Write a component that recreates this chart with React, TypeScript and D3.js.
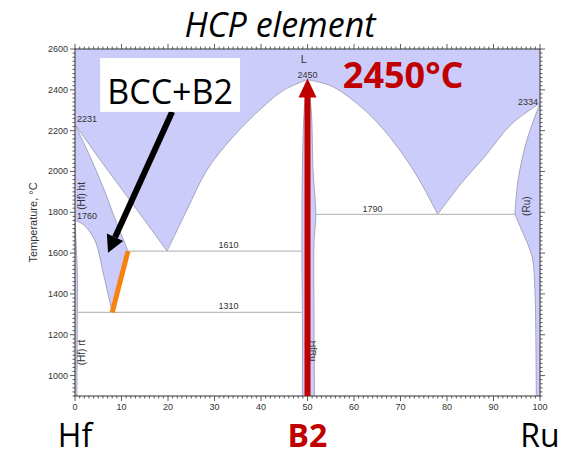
import * as d3 from "d3";

type Pt = [number, number];

// phase boundaries, [at.% Ru, °C]
const hfLiquidus: Pt[] = [[0, 2231], [5, 2070], [10, 1915], [15, 1760], [19.8, 1610]];
const hfSolidus: Pt[] = [[0, 2231], [3, 2085], [6, 1925], [9, 1745], [11.4, 1610]];
const hfTransus: Pt[] = [[0, 1760], [1.5, 1745], [3, 1710], [4.5, 1650], [6, 1510], [7.2, 1390], [8, 1310]];
const hfRt: Pt[] = [[0, 1760], [0.5, 1500], [0.5, 1310], [0.4, 900]];
const domeLeft: Pt[] = [[19.8, 1610], [24.1, 1813], [28.4, 2008], [34, 2170], [40.4, 2316], [45, 2400], [50, 2450]];
const domeRight: Pt[] = [[50, 2450], [55, 2420], [60, 2345], [65, 2240], [70, 2100], [74, 1960], [78, 1790]];
const ruLiquidus: Pt[] = [[78, 1790], [83, 1940], [88, 2070], [94, 2235], [100, 2334]];
const ruSolidus: Pt[] = [[100, 2334], [97.2, 2155], [95.3, 1960], [94.6, 1790]];
const ruSolvus: Pt[] = [[94.6, 1790], [96.3, 1700], [98.3, 1583], [98.9, 1422], [99.1, 1200], [99.2, 900]];
const b2Left: Pt[] = [[50, 2450], [49.3, 2300], [48.9, 2000], [48.8, 1610], [48.9, 1310], [48.9, 900]];
const b2Right: Pt[] = [[50, 2450], [50.8, 2300], [51.2, 2000], [51.8, 1790], [51.4, 1650], [51.4, 1300], [51.5, 900]];

// invariant reactions: [from, to, temperature]
const invariants: [number, number, number][] = [
  [11.4, 48.8, 1610],
  [0.5, 48.9, 1310],
  [51.8, 94.6, 1790],
];

const xTicks = [0, 10, 20, 30, 40, 50, 60, 70, 80, 90, 100];
const yTicks = [1000, 1200, 1400, 1600, 1800, 2000, 2200, 2400, 2600];

const BLUE = "#ccccfb";
const EDGE = "#9d9db5";
const SANS = "'Liberation Sans', Arial, sans-serif";
const BODY = "'Open Sans', sans-serif";

export default function App() {
  const x = d3.scaleLinear().domain([0, 100]).range([75, 540]);
  const y = d3.scaleLinear().domain([900, 2600]).range([396, 49]);

  const curve = d3
    .line<Pt>()
    .x((d) => x(d[0]))
    .y((d) => y(d[1]))
    .curve(d3.curveCatmullRom.alpha(0.5));
  const seg = (pts: Pt[], first = false) => {
    const p = curve(pts) ?? "";
    return first ? p : p.replace(/^M/, "L");
  };
  const rev = (pts: Pt[]) => [...pts].reverse();

  const liquid =
    `M${x(0)},${y(2600)}L${x(100)},${y(2600)}` +
    seg(rev(ruLiquidus)) + seg(rev(domeRight)) + seg(rev(domeLeft)) + seg(rev(hfLiquidus)) + "Z";
  const hfHt = seg(hfSolidus, true) + seg(rev(hfTransus)) + "Z";
  const hfRtArea = seg(hfRt, true) + `L${x(0)},${y(900)}Z`;
  const b2 = seg(b2Left, true) + seg(rev(b2Right)) + "Z";
  const ru = seg(ruSolidus, true) + seg(ruSolvus) + `L${x(100)},${y(900)}Z`;

  const edges = [hfLiquidus, hfSolidus, hfTransus, hfRt, domeLeft, domeRight, ruLiquidus, ruSolidus, ruSolvus, b2Left, b2Right];

  const xMinor = d3.range(0, 101, 1);
  const yMinor = d3.range(900, 2601, 20);

  // black arrow pointing at the BCC+B2 field
  const a0: Pt = [x(20.9), y(2292)];
  const a1: Pt = [x(7.1), y(1602)];
  const ang = Math.atan2(a1[1] - a0[1], a1[0] - a0[0]);
  const headLen = 17, headW = 9;
  const hb: Pt = [a1[0] - headLen * Math.cos(ang), a1[1] - headLen * Math.sin(ang)];
  const nx = -Math.sin(ang), ny = Math.cos(ang);

  const rx = x(50);
  const rTip = y(2450) - 1;

  return (
    <div style={{ position: "absolute", left: 0, top: 0 }}>
      <svg width={570} height={456} style={{ display: "block", background: "#fff" }}>
        <defs>
          <clipPath id="plot">
            <rect x={x(0)} y={y(2600)} width={x(100) - x(0)} height={y(900) - y(2600)} />
          </clipPath>
        </defs>

        <text x={280} y={37} textAnchor="middle" fontFamily={BODY} fontStyle="italic" fontSize={34}>
          HCP element
        </text>

        <g clipPath="url(#plot)">
          <path d={liquid} fill={BLUE} />
          <path d={hfHt} fill={BLUE} />
          <path d={hfRtArea} fill={BLUE} />
          <path d={b2} fill={BLUE} />
          <path d={ru} fill={BLUE} />
          {edges.map((e, i) => (
            <path key={i} d={seg(e, true)} fill="none" stroke={EDGE} strokeWidth={0.9} />
          ))}
          {invariants.map(([a, b, t], i) => (
            <line key={i} x1={x(a)} x2={x(b)} y1={y(t)} y2={y(t)} stroke="#bcbcbc" strokeWidth={1.2} />
          ))}
        </g>

        {/* small labels */}
        <g fontFamily={SANS} fontSize={9} fill="#333">
          <text x={x(49.2)} y={y(2600) + 14} textAnchor="middle" fontSize={11}>L</text>
          <text x={x(50)} y={y(2450) - 2} textAnchor="middle">2450</text>
          <text x={x(0) + 2} y={y(2231) - 2}>2231</text>
          <text x={x(0) + 2} y={y(1760) - 1}>1760</text>
          <text x={x(33)} y={y(1610) - 3} textAnchor="middle">1610</text>
          <text x={x(33)} y={y(1310) - 3} textAnchor="middle">1310</text>
          <text x={x(64)} y={y(1790) - 2} textAnchor="middle">1790</text>
          <text x={x(100) - 2} y={y(2334) + 2} textAnchor="end">2334</text>
          <text transform={`translate(${x(0) + 10},${y(1880)}) rotate(-90)`} textAnchor="middle" fontSize={10}>(Hf) ht</text>
          <text transform={`translate(${x(0) + 10},${y(1113)}) rotate(-90)`} textAnchor="middle" fontSize={10}>(Hf) rt</text>
          <text transform={`translate(${x(100) - 10},${y(1830)}) rotate(-90)`} textAnchor="middle" fontSize={10}>(Ru)</text>
          <text transform={`translate(${x(50) + 2},${y(1120)}) rotate(90)`} textAnchor="middle" fontSize={9}>HfRu</text>
        </g>

        {/* frame and ticks */}
        <rect x={x(0)} y={y(2600)} width={x(100) - x(0)} height={y(900) - y(2600)} fill="none" stroke="#333" strokeWidth={1} />
        <g stroke="#333" strokeWidth={0.8}>
          {xMinor.map((v) => {
            const len = v % 10 === 0 ? 5 : 2.5;
            return (
              <g key={v}>
                <line x1={x(v)} x2={x(v)} y1={y(900)} y2={y(900) + len} />
                <line x1={x(v)} x2={x(v)} y1={y(2600)} y2={y(2600) - len} />
              </g>
            );
          })}
          {yMinor.map((v) => {
            const len = v % 200 === 0 ? 5 : 2.5;
            return (
              <g key={v}>
                <line x1={x(0)} x2={x(0) - len} y1={y(v)} y2={y(v)} />
                <line x1={x(100)} x2={x(100) + len} y1={y(v)} y2={y(v)} />
              </g>
            );
          })}
        </g>
        <g fontFamily={SANS} fontSize={9} fill="#333">
          {xTicks.map((v) => (
            <text key={v} x={x(v)} y={y(900) + 14} textAnchor="middle">{v}</text>
          ))}
          {yTicks.map((v) => (
            <text key={v} x={x(0) - 7} y={y(v) + 3} textAnchor="end">{v}</text>
          ))}
          <text transform={`translate(37,${y(1750)}) rotate(-90)`} textAnchor="middle" fontSize={11}>
            Temperature, °C
          </text>
        </g>

        {/* annotations */}
        <line x1={x(8)} y1={y(1310)} x2={x(11.4)} y2={y(1610)} stroke="#f7820f" strokeWidth={5} />
        <line x1={a0[0]} y1={a0[1]} x2={hb[0]} y2={hb[1]} stroke="#000" strokeWidth={6} />
        <polygon
          points={`${a1[0]},${a1[1]} ${hb[0] + nx * headW},${hb[1] + ny * headW} ${hb[0] - nx * headW},${hb[1] - ny * headW}`}
          fill="#000"
        />
        <rect x={x(5.4)} y={y(2556)} width={x(35.5) - x(5.4)} height={y(2292) - y(2556)} fill="#fff" />
        <text x={(x(5.4) + x(35.5)) / 2} y={y(2330)} textAnchor="middle" fontFamily={BODY} fontSize={34}>
          BCC+B2
        </text>

        <line x1={rx} x2={rx} y1={y(900)} y2={rTip + 17} stroke="#c00000" strokeWidth={6} />
        <polygon points={`${rx},${rTip} ${rx - 9},${rTip + 19} ${rx + 9},${rTip + 19}`} fill="#c00000" />
        <text x={x(57.6)} y={y(2409)} fontFamily={BODY} fontWeight="bold" fontSize={36} fill="#c00000">
          2450°C
        </text>

        <g fontFamily={BODY} fontSize={32}>
          <text x={x(0)} y={447} textAnchor="middle">Hf</text>
          <text x={x(50)} y={447} textAnchor="middle" fontWeight="bold" fill="#c00000">B2</text>
          <text x={x(100)} y={447} textAnchor="middle">Ru</text>
        </g>
      </svg>
    </div>
  );
}
